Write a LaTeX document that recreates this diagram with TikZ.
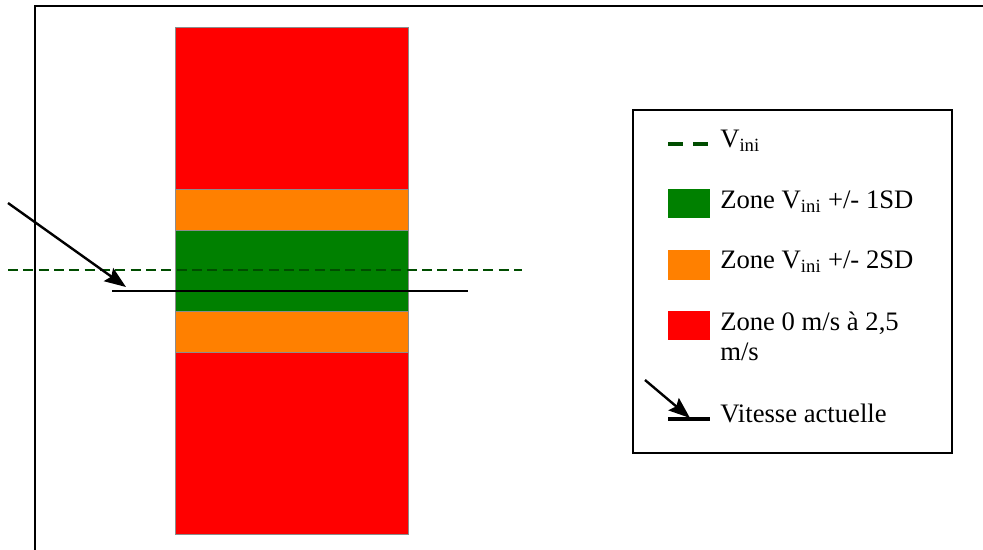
\documentclass[tikz,border=0pt]{standalone}
\usepackage{fontspec}
\setmainfont{Liberation Serif}
\usetikzlibrary{arrows.meta}

\definecolor{zoneRed}{RGB}{255,0,0}
\definecolor{zoneOrange}{RGB}{255,128,0}
\definecolor{zoneGreen}{RGB}{0,128,0}
\definecolor{viniGreen}{RGB}{0,77,0}

\tikzset{
  zone/.style={draw={rgb,255:red,140;green,140;blue,140}, line width=0.6},
  viniline/.style={draw=viniGreen, line width=2.2, dash pattern=on 7.5pt off 4pt},
  speedline/.style={draw=black, line width=2.2},
  speedarrow/.style={draw=black, line width=1.8, -{Stealth[length=16pt,width=12pt,inset=2.5pt]}},
  legtext/.style={anchor=base west, inner sep=0pt, font=\fontsize{20}{22.5}\selectfont, align=left}
}

\begin{document}
\begin{tikzpicture}[x=0.75pt,y=0.75pt,yscale=-1,xscale=1]
\useasboundingbox (0,0) rectangle (983,550);
%Frame
\draw [line width=1.8] (35,550) -- (35,6) -- (983,6) ;
%Column of zones
\draw [zone, fill=zoneRed] (175,27) rectangle (408,189) ;
\draw [zone, fill=zoneOrange] (175,189) rectangle (408,230) ;
\draw [zone, fill=zoneGreen] (175,230) rectangle (408,311) ;
\draw [zone, fill=zoneOrange] (175,311) rectangle (408,352) ;
\draw [zone, fill=zoneRed] (175,352) rectangle (408,534) ;
%V ini line
\coordinate (viniL) at (8,270) ;
\coordinate (viniR) at (522,270) ;
\draw [viniline] (viniL) -- (viniR) ;
%Current speed
\coordinate (speedL) at (112,291) ;
\coordinate (speedR) at (468,291) ;
\draw [speedline] (speedL) -- (speedR) ;
\coordinate (arrStart) at (8,203) ;
\coordinate (arrTip) at (126,287) ;
\draw [speedarrow] (arrStart) -- (arrTip) ;
%Legend box
\draw [line width=1.4] (633,110) rectangle (952,453) ;
%Legend: V ini
\coordinate (lgDashL) at (668,144) ;
\coordinate (lgDashR) at (710,144) ;
\draw [viniline, line width=2.6, dash pattern=on 11pt off 8pt] (lgDashL) -- (lgDashR) ;
\node (lgVini) [legtext] at (720,147) {V\textsubscript{ini}};
%Legend: zones
\draw [fill=zoneGreen, draw=none] (668,189) rectangle (710,218) ;
\node (lgOneSD) [legtext] at (720,208) {Zone V\textsubscript{ini} +/- 1SD};
\draw [fill=zoneOrange, draw=none] (668,250) rectangle (710,280) ;
\node (lgTwoSD) [legtext] at (720,268) {Zone V\textsubscript{ini} +/- 2SD};
\draw [fill=zoneRed, draw=none] (668,311) rectangle (710,340) ;
\node (lgRed) [legtext] at (720,360) {Zone 0 m/s à 2,5\\m/s};
%Legend: current speed
\coordinate (lgSpeedL) at (668,419) ;
\coordinate (lgSpeedR) at (710,419) ;
\draw [speedline, line width=3] (lgSpeedL) -- (lgSpeedR) ;
\coordinate (lgArrStart) at (645,380) ;
\coordinate (lgArrTip) at (690,418) ;
\draw [speedarrow] (lgArrStart) -- (lgArrTip) ;
\node (lgSpeed) [legtext] at (720,422) {Vitesse actuelle};
\end{tikzpicture}
\end{document}
